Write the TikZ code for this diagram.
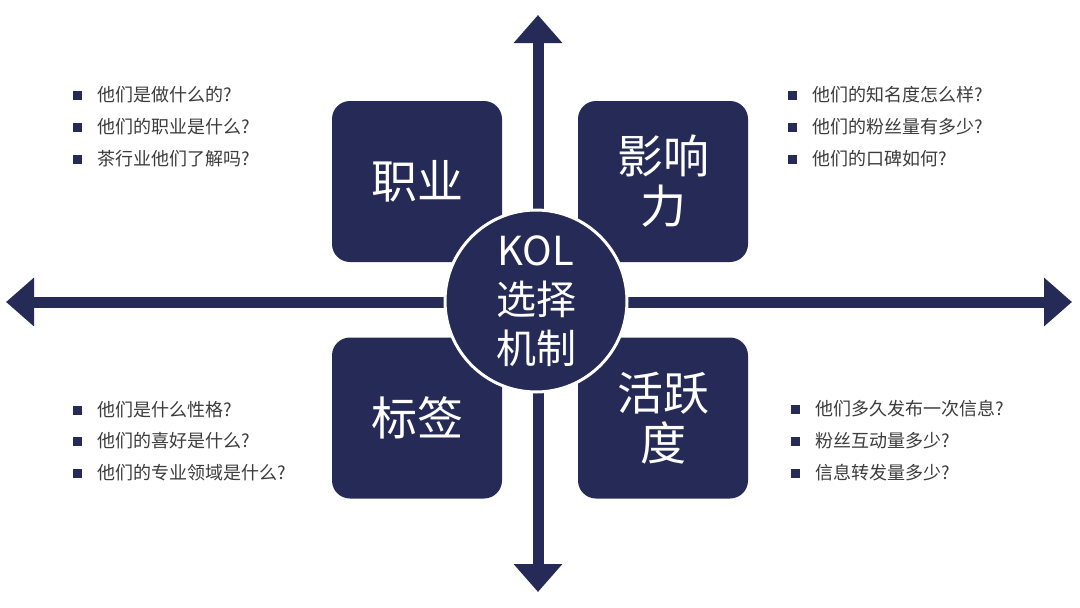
\documentclass[tikz,border=0pt]{standalone}
\usepackage{fontspec}
\setmainfont{Noto Sans CJK SC}
\usetikzlibrary{arrows.meta}
\definecolor{navy}{HTML}{262A56}
\definecolor{txtgray}{HTML}{3C3C3C}
\begin{document}
\begin{tikzpicture}[x=1pt,y=-1pt,
  axis/.style={navy, line width=11pt,
    {Triangle[width=47pt,length=28pt]}-{Triangle[width=47pt,length=28pt]}},
  box/.style={fill=navy, text=white, rounded corners=18pt, minimum width=170pt,
    minimum height=161pt, inner sep=0pt, align=center,
    font=\fontsize{46}{50}\selectfont},
  hub/.style={circle, fill=navy, draw=white, line width=3pt, minimum size=182pt,
    inner sep=0pt, text=white, align=center, font=\fontsize{40}{49}\selectfont},
  bul/.style={fill=navy, minimum size=9pt, inner sep=0pt},
  item/.style={anchor=west, text=txtgray, inner sep=0pt, font=\fontsize{18}{20}\selectfont}
]
\useasboundingbox (0,0) rectangle (1080,608);
\fill[white] (0,0) rectangle (1080,608);
% axes
\coordinate (top) at (538,15);
\coordinate (bot) at (538,592);
\coordinate (lft) at (6,302);
\coordinate (rgt) at (1072,302);
\draw[axis] (bot) -- (top);
\draw[axis] (lft) -- (rgt);
% boxes
\node[box] (zy) at (417,181.5) {职业};
\node[box] (yx) at (663,181.5) {影响\\力};
\node[box] (bq) at (417,418) {标签};
\node[box] (hy) at (663,418) {活跃\\度};
% hub
\node[hub] (hub) at (536,301) {KOL\\选择\\机制};
% lists
\node[bul] (a1) at (77,95) {};  \node[item] (ta1) at (97,95) {他们是做什么的?};
\node[bul] (a2) at (77,127) {}; \node[item] (ta2) at (97,127) {他们的职业是什么?};
\node[bul] (a3) at (77,159) {}; \node[item] (ta3) at (97,159) {茶行业他们了解吗?};
\node[bul] (b1) at (792,95) {};  \node[item] (tb1) at (812,95) {他们的知名度怎么样?};
\node[bul] (b2) at (792,127) {}; \node[item] (tb2) at (812,127) {他们的粉丝量有多少?};
\node[bul] (b3) at (792,159) {}; \node[item] (tb3) at (812,159) {他们的口碑如何?};
\node[bul] (c1) at (77,410) {};  \node[item] (tc1) at (97,410) {他们是什么性格?};
\node[bul] (c2) at (77,441) {}; \node[item] (tc2) at (97,441) {他们的喜好是什么?};
\node[bul] (c3) at (77,473) {}; \node[item] (tc3) at (97,473) {他们的专业领域是什么?};
\node[bul] (d1) at (795,409) {};  \node[item] (td1) at (815,409) {他们多久发布一次信息?};
\node[bul] (d2) at (795,441) {}; \node[item] (td2) at (815,441) {粉丝互动量多少?};
\node[bul] (d3) at (795,473) {}; \node[item] (td3) at (815,473) {信息转发量多少?};
\end{tikzpicture}
\end{document}
